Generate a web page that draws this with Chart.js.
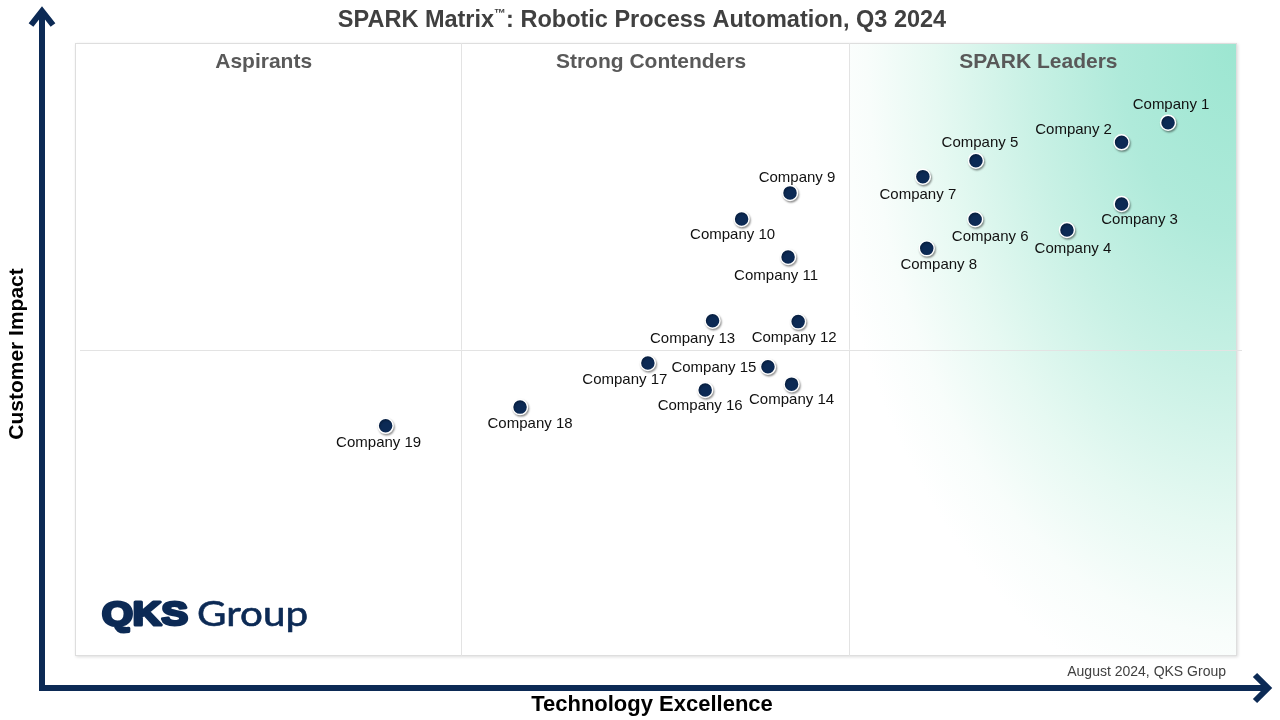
<!DOCTYPE html>
<html>
<head>
<meta charset="utf-8">
<title>SPARK Matrix: Robotic Process Automation, Q3 2024</title>
<script src="https://cdn.jsdelivr.net/npm/chart.js@4/dist/chart.umd.min.js"></script>
<style>
    html, body { margin: 0; padding: 0; background: #ffffff; }
    #matrix { display: block; }
</style>
</head>
<body>
<canvas id="matrix" width="1280" height="720"></canvas>
<script>
// Data (x: Technology Excellence 0-300, y: Customer Impact 0-200)
const companies = [
    'Company 1', 'Company 2', 'Company 3', 'Company 4', 'Company 5',
    'Company 6', 'Company 7', 'Company 8', 'Company 9', 'Company 10',
    'Company 11', 'Company 12', 'Company 13', 'Company 14', 'Company 15',
    'Company 16', 'Company 17', 'Company 18', 'Company 19'
];
const techExcellence = [
    282.2, 270.2, 270.2, 256.1, 232.6,
    232.4, 218.9, 219.9, 184.6, 172.1,
    184.1, 186.7, 164.6, 185.0, 178.9,
    162.7, 147.9, 114.9, 80.2
];
const customerImpact = [
    174.0, 167.6, 147.5, 139.0, 161.6,
    142.5, 156.4, 133.0, 151.1, 142.6,
    130.2, 109.1, 109.4, 88.7, 94.4,
    86.8, 95.6, 81.2, 75.1
];
const zoneNames = ['Aspirants', 'Strong Contenders', 'SPARK Leaders'];
const xDividers = [100, 200];
const yDividers = [100];
const xRange = [0, 300];
const yRange = [0, 200];

// where each name sits relative to its dot (px)
const labelOffsets = [
    [3, -18], [-48, -12], [18, 16], [6, 19], [4, -18],
    [15, 18], [-5, 18], [12, 17], [7, -15], [-9, 16],
    [-12, 19], [-4, 16], [-20, 18], [0, 16], [-54, 1],
    [-5, 16], [-23, 17], [10, 17], [-7, 17]
];

const NAVY = '#0c2a55';
const SANS = '"Liberation Sans", Arial, sans-serif';

// Background, leaders gradient, frame, dividers, zone headers
const backdropPlugin = {
    id: 'backdrop',
    beforeDraw(chart) {
        const ctx = chart.ctx;
        const area = chart.chartArea;
        const xs = chart.scales.x;
        const ys = chart.scales.y;

        ctx.save();
        ctx.fillStyle = '#ffffff';
        ctx.fillRect(0, 0, chart.width, chart.height);

        // frame with soft shadow
        ctx.shadowColor = 'rgba(0,0,0,0.14)';
        ctx.shadowBlur = 3;
        ctx.shadowOffsetX = 1;
        ctx.shadowOffsetY = 1;
        ctx.fillRect(area.left, area.top, area.width, area.height);
        ctx.shadowColor = 'transparent';

        // leaders zone: elliptical glow from the top-right corner
        const lx = xs.getPixelForValue(xDividers[1]);
        ctx.save();
        ctx.beginPath();
        ctx.rect(lx, area.top, area.right - lx, area.height);
        ctx.clip();
        ctx.translate(area.right, area.top);
        ctx.scale(1, 1.6);
        const grad = ctx.createRadialGradient(0, 0, 0, 0, 0, 420);
        grad.addColorStop(0, '#9ce6d1');
        grad.addColorStop(0.28, '#afeada');
        grad.addColorStop(0.5, '#c9f1e5');
        grad.addColorStop(0.72, '#e6f9f2');
        grad.addColorStop(0.88, '#f8fdfb');
        grad.addColorStop(1, '#ffffff');
        ctx.fillStyle = grad;
        ctx.fillRect(-area.width, -10, area.width + 10, area.height);
        ctx.restore();

        ctx.strokeStyle = '#dedede';
        ctx.lineWidth = 1;
        ctx.strokeRect(area.left + 0.5, area.top + 0.5, area.width - 1, area.height - 1);

        ctx.strokeStyle = '#e3e3e3';
        xDividers.forEach(v => {
            const px = Math.round(xs.getPixelForValue(v)) - 0.5;
            ctx.beginPath();
            ctx.moveTo(px, area.top);
            ctx.lineTo(px, area.bottom);
            ctx.stroke();
        });
        yDividers.forEach(v => {
            const py = Math.round(ys.getPixelForValue(v)) + 0.5;
            ctx.beginPath();
            ctx.moveTo(area.left + 5, py);
            ctx.lineTo(area.right + 5, py);
            ctx.stroke();
        });

        // zone headers
        const edges = [xRange[0]].concat(xDividers, [xRange[1]]);
        ctx.font = 'bold 21px ' + SANS;
        ctx.fillStyle = '#595959';
        ctx.textAlign = 'center';
        ctx.textBaseline = 'middle';
        zoneNames.forEach((name, i) => {
            const cx = (xs.getPixelForValue(edges[i]) + xs.getPixelForValue(edges[i + 1])) / 2 - 5;
            ctx.fillText(name, cx, area.top + 19);
        });
        ctx.restore();
    }
};

// dot shadows + company names
const labelPlugin = {
    id: 'companyLabels',
    beforeDatasetsDraw(chart) {
        const ctx = chart.ctx;
        ctx.save();
        ctx.shadowColor = 'rgba(0,0,0,0.35)';
        ctx.shadowBlur = 2;
        ctx.shadowOffsetX = 1;
        ctx.shadowOffsetY = 1.5;
    },
    afterDatasetsDraw(chart) {
        const ctx = chart.ctx;
        ctx.restore();
        const meta = chart.getDatasetMeta(0);
        ctx.save();
        ctx.font = '15px ' + SANS;
        ctx.fillStyle = '#111111';
        ctx.textAlign = 'center';
        ctx.textBaseline = 'middle';
        meta.data.forEach((pt, i) => {
            const off = labelOffsets[i];
            ctx.fillText(companies[i], pt.x + off[0], pt.y + off[1]);
        });
        ctx.restore();
    }
};

// arrows, axis titles, title, logo, footnote
const framePlugin = {
    id: 'frameDecor',
    afterDraw(chart) {
        const ctx = chart.ctx;
        ctx.save();

        // axis arrows
        ctx.strokeStyle = NAVY;
        ctx.lineWidth = 6;
        ctx.lineCap = 'butt';
        ctx.lineJoin = 'miter';
        ctx.beginPath();
        ctx.moveTo(42, 12);
        ctx.lineTo(42, 688);
        ctx.lineTo(1265, 688);
        ctx.stroke();
        ctx.beginPath();
        ctx.moveTo(31, 25);
        ctx.lineTo(42, 11);
        ctx.lineTo(53, 25);
        ctx.stroke();
        ctx.beginPath();
        ctx.moveTo(1255, 675);
        ctx.lineTo(1268, 688);
        ctx.lineTo(1255, 701);
        ctx.stroke();

        // axis titles
        ctx.fillStyle = '#000000';
        ctx.textAlign = 'center';
        ctx.textBaseline = 'middle';
        ctx.font = 'bold 22px ' + SANS;
        ctx.fillText('Technology Excellence', 652, 705);
        ctx.font = 'bold 21px ' + SANS;
        ctx.save();
        ctx.translate(17, 354);
        ctx.rotate(-Math.PI / 2);
        ctx.fillText('Customer Impact', 0, 0);
        ctx.restore();

        // title with superscript TM
        const partA = 'SPARK Matrix';
        const tm = '\u2122';
        const partB = ': Robotic Process Automation, Q3 2024';
        ctx.fillStyle = '#404040';
        ctx.textAlign = 'left';
        ctx.textBaseline = 'alphabetic';
        ctx.font = 'bold 23.5px ' + SANS;
        const wA = ctx.measureText(partA).width;
        const wB = ctx.measureText(partB).width;
        ctx.font = 'bold 12px ' + SANS;
        const wT = ctx.measureText(tm).width;
        let tx = 642 - (wA + wT + wB) / 2;
        ctx.font = 'bold 23.5px ' + SANS;
        ctx.fillText(partA, tx, 27);
        tx += wA;
        ctx.font = 'bold 12px ' + SANS;
        ctx.fillText(tm, tx, 17);
        tx += wT;
        ctx.font = 'bold 23.5px ' + SANS;
        ctx.fillText(partB, tx, 27);

        // QKS Group logo
        ctx.fillStyle = NAVY;
        ctx.strokeStyle = NAVY;
        ctx.lineJoin = 'round';
        ctx.font = 'bold 33px ' + SANS;
        const wQ = ctx.measureText('QKS').width;
        ctx.save();
        ctx.translate(102, 625);
        ctx.scale(86 / wQ, 1);
        ctx.lineWidth = 3;
        ctx.fillText('QKS', 0, 0);
        ctx.strokeText('QKS', 0, 0);
        ctx.restore();
        ctx.font = '34px Lato, ' + SANS;
        const wG = ctx.measureText('Group').width;
        ctx.save();
        ctx.translate(197, 626);
        ctx.scale(111 / wG, 1);
        ctx.lineWidth = 0.6;
        ctx.fillText('Group', 0, 0);
        ctx.strokeText('Group', 0, 0);
        ctx.restore();

        // footnote
        ctx.fillStyle = '#404040';
        ctx.font = '14px ' + SANS;
        ctx.textAlign = 'right';
        ctx.textBaseline = 'middle';
        ctx.fillText('August 2024, QKS Group', 1226, 672);

        ctx.restore();
    }
};

const points = techExcellence.map((x, i) => ({ x: x, y: customerImpact[i] }));

new Chart(document.getElementById('matrix'), {
    type: 'scatter',
    data: {
        datasets: [{
            label: 'Vendors',
            data: points,
            pointRadius: 7.5,
            pointHoverRadius: 7.5,
            pointBackgroundColor: NAVY,
            pointBorderColor: '#ffffff',
            pointBorderWidth: 1.5
        }]
    },
    options: {
        responsive: false,
        animation: false,
        devicePixelRatio: 1,
        layout: { padding: { left: 75, top: 43, right: 43, bottom: 64 } },
        scales: {
            x: { type: 'linear', min: xRange[0], max: xRange[1], display: false },
            y: { type: 'linear', min: yRange[0], max: yRange[1], display: false }
        },
        plugins: {
            legend: { display: false },
            tooltip: { enabled: false },
            title: { display: false }
        }
    },
    plugins: [backdropPlugin, labelPlugin, framePlugin]
});
</script>
</body>
</html>
